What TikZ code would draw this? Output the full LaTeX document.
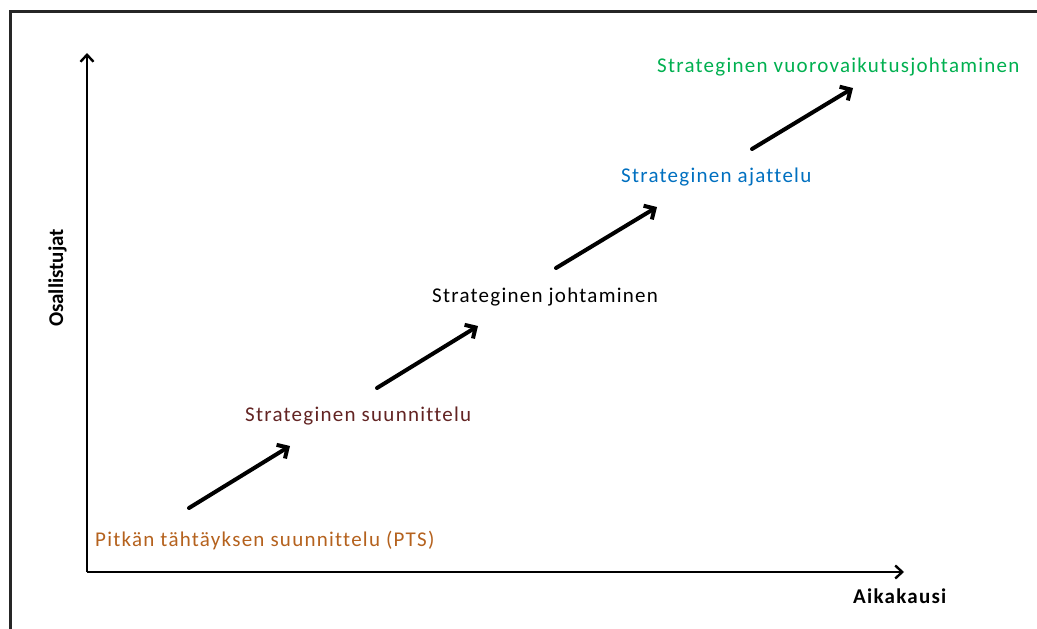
\documentclass[tikz,border=0pt]{standalone}
\usepackage{fontspec}
\setmainfont{Carlito}
\newfontfamily\spaced[LetterSpace=6,Ligatures=NoCommon]{Carlito}
\usetikzlibrary{arrows.meta}
\definecolor{ptsbrown}{HTML}{B5621E}
\definecolor{sdark}{HTML}{632423}
\definecolor{sblue}{HTML}{0070C0}
\definecolor{sgreen}{HTML}{00B050}
\tikzset{
  lbl/.style={anchor=base west, inner sep=0pt, font=\spaced\fontsize{21}{25}\selectfont},
  axlbl/.style={inner sep=0pt, font=\fontsize{21}{25}\selectfont\bfseries},
  axis/.style={line width=2.4pt, -{Straight Barb[length=7pt,width=13pt,line width=2.4pt]}},
  stepar/.style={line width=4pt, line cap=round, -{Straight Barb[length=8pt,width=16pt,line width=4pt]}},
}
\begin{document}
\begin{tikzpicture}[x=1pt,y=-1pt]
\useasboundingbox (0,0) rectangle (1037,629);
\clip (0,0) rectangle (1037,629);
\fill[white] (0,0) rectangle (1037,629);
\draw[line width=3pt, black!85] (10,650) -- (10,11) -- (1060,11);
% axes
\coordinate (origin) at (87,572);
\coordinate (ytip) at (87,53);
\coordinate (xtip) at (904,572);
\draw[axis] (origin) -- (ytip);
\draw[axis] (origin) -- (xtip);
\node[axlbl, anchor=base west, font=\spaced\fontsize{21}{25}\selectfont\bfseries] (xlab) at (853,603) {Aikakausi};
\node[axlbl, rotate=90, anchor=base] (ylab) at (63,278) {Osallistujat};
% labels
\node[lbl, text=ptsbrown] (pts) at (95,546) {Pitkän tähtäyksen suunnittelu (PTS)};
\node[lbl, text=sdark] (ssu) at (245,421) {Strateginen suunnittelu};
\node[lbl, text=black] (sjo) at (432,302) {Strateginen johtaminen};
\node[lbl, text=sblue] (saj) at (621,182) {Strateginen ajattelu};
\node[lbl, text=sgreen] (svu) at (657,72) {Strateginen vuorovaikutusjohtaminen};
% arrows
\coordinate (a1s) at (189,508); \coordinate (a1e) at (290,446);
\coordinate (a2s) at (377,388); \coordinate (a2e) at (478,326);
\coordinate (a3s) at (556,268); \coordinate (a3e) at (657,207);
\coordinate (a4s) at (752,149); \coordinate (a4e) at (853,88);
\draw[stepar] (a1s) -- (a1e);
\draw[stepar] (a2s) -- (a2e);
\draw[stepar] (a3s) -- (a3e);
\draw[stepar] (a4s) -- (a4e);
\end{tikzpicture}
\end{document}
